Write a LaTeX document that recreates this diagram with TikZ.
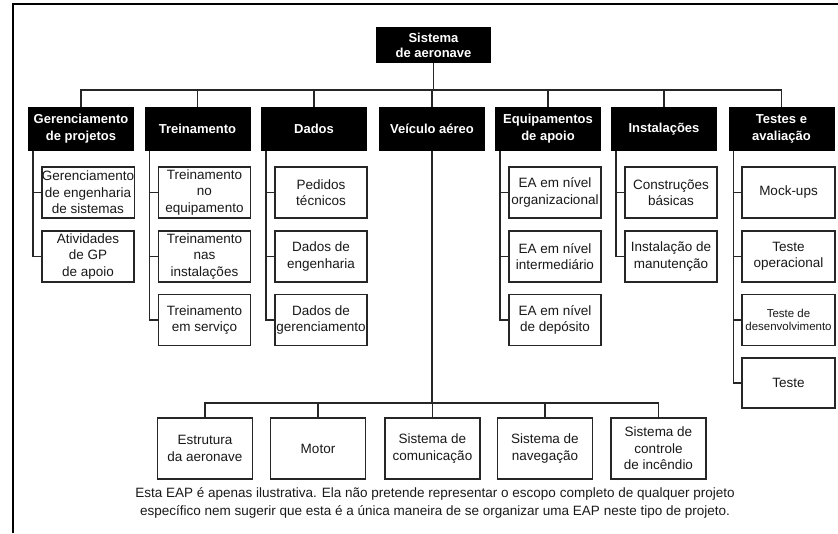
\documentclass[tikz,border=0pt]{standalone}
\usepackage{fontspec}
\setmainfont{Liberation Sans}
\begin{document}
\begin{tikzpicture}[x=1pt,y=-1pt,
  every node/.style={inner sep=0pt, outer sep=0pt},
  conn/.style={line width=1.1pt, draw=black!85},
  rootbox/.style={fill=black, text=white, font=\fontsize{13}{15}\selectfont\bfseries,
    minimum width=115pt, minimum height=36pt, align=center},
  headbox/.style={fill=black, text=white, font=\fontsize{13}{17}\selectfont\bfseries,
    minimum width=106pt, minimum height=44pt, align=center},
  leafbox/.style={draw=black!85, line width=1.3pt, fill=white, text=black!90,
    font=\fontsize{13.5}{16.5}\selectfont, minimum width=92pt, minimum height=51pt, align=center},
  lowbox/.style={leafbox, minimum width=95pt, minimum height=61pt},
]
\useasboundingbox (0,0) rectangle (838,533);

% outer frame (top and left edges)
\draw[line width=2pt] (12.5,533) -- (12.5,3.5) -- (838,3.5);

% root
\node[rootbox] (root) at (433.5,45) {Sistema\\de aeronave};

% first level
\node[headbox] (gp)  at (81,129)    {Gerenciamento\\de projetos};
\node[headbox] (tr)  at (197.5,129) {Treinamento};
\node[headbox] (da)  at (314,129)   {Dados};
\node[headbox] (va)  at (432,129)   {Veículo aéreo};
\node[headbox] (ea)  at (548,129)   {Equipamentos\\de apoio};
\node[headbox] (in)  at (664,129)   {Instalações};
\node[headbox] (te)  at (781.5,129) {Testes e\\avaliação};

\foreach \n in {gp,tr,da,va,ea,in,te}
  \draw[conn] (\n.north) -- ++(0,-17) -| (root.south);

% second level under the side branches
\node[leafbox] (gp1) at (88,192.5)  {Gerenciamento\\de engenharia\\de sistemas};
\node[leafbox] (gp2) at (88,256.5)  {Atividades\\de GP\\de apoio};

\node[leafbox] (tr1) at (204.5,192.5) {Treinamento\\no\\equipamento};
\node[leafbox] (tr2) at (204.5,256.5) {Treinamento\\nas\\instalações};
\node[leafbox] (tr3) at (204.5,320)   {Treinamento\\em serviço};

\node[leafbox] (da1) at (321,192.5) {Pedidos\\técnicos};
\node[leafbox] (da2) at (321,256.5) {Dados de\\engenharia};
\node[leafbox] (da3) at (321,320)   {Dados de\\gerenciamento};

\node[leafbox] (ea1) at (555,192.5) {EA em nível\\organizacional};
\node[leafbox] (ea2) at (555,256.5) {EA em nível\\intermediário};
\node[leafbox] (ea3) at (555,320)   {EA em nível\\de depósito};

\node[leafbox] (in1) at (671,192.5) {Construções\\básicas};
\node[leafbox] (in2) at (671,256.5) {Instalação de\\manutenção};

\node[leafbox, minimum width=93pt] (te1) at (788.5,192.5) {Mock-ups};
\node[leafbox, minimum width=93pt] (te2) at (788.5,256.5) {Teste\\operacional};
\node[leafbox, minimum width=93pt, font=\fontsize{11.5}{13.5}\selectfont] (te3) at (788.5,320) {Teste de\\desenvolvimento};
\node[leafbox, minimum width=93pt, minimum height=50pt] (te4) at (788.5,383) {Teste};

% side spines with ticks
\foreach \p/\cs in {gp/{gp1,gp2}, tr/{tr1,tr2,tr3}, da/{da1,da2,da3},
                    ea/{ea1,ea2,ea3}, in/{in1,in2}, te/{te1,te2,te3,te4}}
  \foreach \c in \cs
    \draw[conn] ([xshift=5pt]\p.south west) |- (\c.west);

% second level under the vehicle
\node[lowbox] (v1) at (205,448.5)   {Estrutura\\da aeronave};
\node[lowbox] (v2) at (318,448.5)   {Motor};
\node[lowbox] (v3) at (432.5,448.5) {Sistema de\\comunicação};
\node[lowbox] (v4) at (545,448.5)   {Sistema de\\navegação};
\node[lowbox] (v5) at (658.5,448.5) {Sistema de\\controle\\de incêndio};

\foreach \n in {v1,v2,v3,v4,v5}
  \draw[conn] (\n.north) -- ++(0,-15) -| (va.south);

% note
\node[font=\fontsize{13.5}{18}\selectfont, align=center, text=black!90] (note) at (435,502.5)
  {Esta EAP é apenas ilustrativa. Ela não pretende representar o escopo completo de qualquer projeto\\
   específico nem sugerir que esta é a única maneira de se organizar uma EAP neste tipo de projeto.};
\end{tikzpicture}
\end{document}
